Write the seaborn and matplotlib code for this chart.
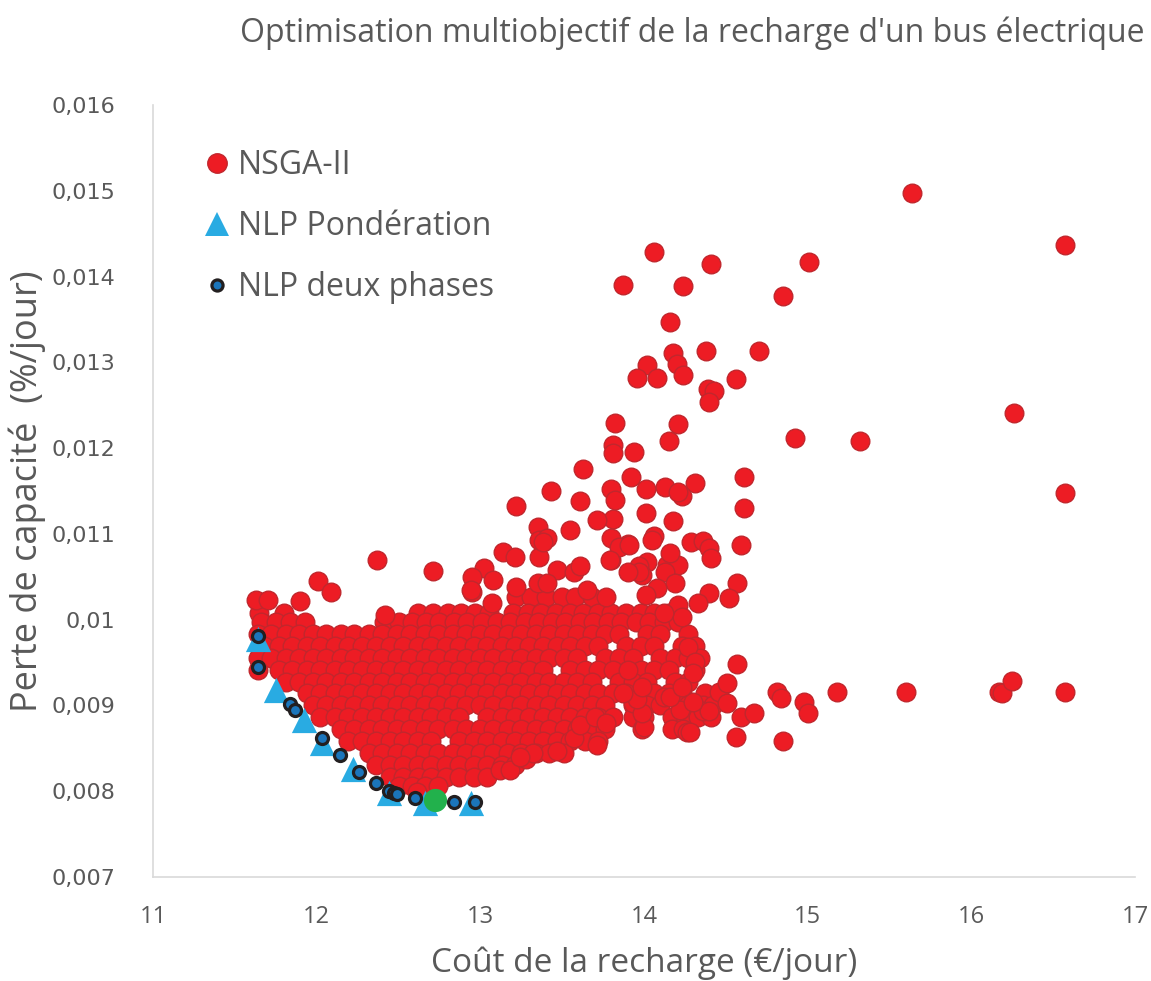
import matplotlib
matplotlib.use("Agg")
import matplotlib.pyplot as plt
import seaborn as sns
from matplotlib.lines import Line2D
from matplotlib.ticker import FuncFormatter, FixedLocator

# ---------------------------------------------------------------------------
# Data: charging cost (EUR/day) vs. battery capacity loss (%/day)
# ---------------------------------------------------------------------------

# NSGA-II population, scattered individuals (cost, loss)
nsga_sparse = [
    (15.64, 0.01497), (16.57, 0.01437), (14.06, 0.01429), (14.41, 0.01415), (15.01, 0.01417),
    (13.87, 0.01390), (14.24, 0.01389), (14.85, 0.01377), (14.16, 0.01347),
    (14.18, 0.01311), (14.20, 0.01298), (14.38, 0.01313), (14.70, 0.01313), (14.02, 0.01297),
    (14.08, 0.01282), (13.96, 0.01282), (14.24, 0.01285), (14.56, 0.01280), (14.39, 0.01269),
    (14.43, 0.01267), (14.40, 0.01254), (16.26, 0.01241), (13.82, 0.01229), (14.21, 0.01228),
    (14.15, 0.01208), (14.92, 0.01212), (15.32, 0.01208), (13.81, 0.01204), (13.81, 0.01194),
    (13.94, 0.01196), (13.63, 0.01176), (13.92, 0.01166), (16.57, 0.01148), (13.80, 0.01152),
    (14.01, 0.01152), (14.13, 0.01155), (14.31, 0.01159), (14.23, 0.01144), (14.21, 0.01149),
    (14.61, 0.01166), (14.61, 0.01130), (13.43, 0.01150), (13.61, 0.01138), (13.82, 0.01140),
    (13.22, 0.01133), (14.01, 0.01124), (14.18, 0.01115), (13.81, 0.01117), (13.71, 0.01116),
    (13.35, 0.01108), (13.55, 0.01105), (13.36, 0.01093), (13.41, 0.01095), (13.80, 0.01095),
    (13.90, 0.01088), (14.06, 0.01098), (14.59, 0.01087), (14.29, 0.01090), (14.36, 0.01092),
    (14.40, 0.01084), (14.41, 0.01072), (13.14, 0.01079), (13.21, 0.01073), (13.36, 0.01073),
    (13.80, 0.01069), (14.02, 0.01067), (14.14, 0.01064), (14.21, 0.01064), (13.97, 0.01063),
    (13.99, 0.01052), (14.13, 0.01056), (14.19, 0.01043), (14.57, 0.01043), (14.52, 0.01025),
    (14.40, 0.01031), (14.33, 0.01020), (13.02, 0.01060), (13.08, 0.01046), (12.95, 0.01032),
    (13.07, 0.01020), (12.37, 0.01069), (12.71, 0.01057), (12.01, 0.01045), (12.09, 0.01032),
    (12.42, 0.01006), (13.38, 0.01090), (13.85, 0.01085), (13.79, 0.01070), (13.47, 0.01058),
    (13.57, 0.01055), (13.61, 0.01062), (13.35, 0.01043), (13.41, 0.01043), (13.22, 0.01038),
    (12.95, 0.01050), (12.94, 0.01035), (13.65, 0.01035), (13.77, 0.01027), (13.91, 0.01087),
    (14.05, 0.01093), (14.16, 0.01078), (13.97, 0.01055), (13.90, 0.01055), (14.08, 0.01037),
    (14.01, 0.01029), (14.21, 0.01017), (14.23, 0.01003), (14.12, 0.01008), (14.27, 0.00968),
    (14.31, 0.00951), (14.30, 0.00938), (13.28, 0.00837), (13.12, 0.00825), (13.18, 0.00825),
    (11.63, 0.01023), (11.70, 0.01023), (11.90, 0.01022), (12.61, 0.00799),
]

# NSGA-II individuals along the right-hand tail (cost, loss)
nsga_tail = [
    (14.57, 0.00948), (14.46, 0.00916), (14.51, 0.00926), (14.51, 0.00903), (14.59, 0.00887),
    (14.67, 0.00891), (14.81, 0.00916), (14.84, 0.00909), (14.98, 0.00904), (15.00, 0.00891),
    (15.18, 0.00916), (15.60, 0.00916), (16.17, 0.00916), (16.19, 0.00915), (16.25, 0.00929),
    (16.57, 0.00916), (14.56, 0.00863), (14.85, 0.00858), (14.26, 0.00869), (14.28, 0.00869),
    (14.00, 0.00875), (13.71, 0.00854), (13.47, 0.00847), (13.57, 0.00862), (13.61, 0.00877),
    (13.70, 0.00887), (13.77, 0.00880), (13.32, 0.00845), (13.24, 0.00840), (14.36, 0.00893),
    (14.40, 0.00893), (14.22, 0.00895), (14.30, 0.00904), (13.93, 0.00903), (13.99, 0.00891),
    (13.96, 0.00907), (13.87, 0.00915), (14.12, 0.00910), (14.16, 0.00910), (14.23, 0.00922),
    (13.99, 0.00922), (13.90, 0.00941),
]

# NSGA-II dense core: loss levels and the costs found at each level
nsga_core_loss = [
    0.01027, 0.01008, 0.00997, 0.00983, 0.00969, 0.00955, 0.00941, 0.00927,
    0.00914, 0.00900, 0.00886, 0.00872, 0.00858, 0.00844, 0.00830, 0.00816, 0.00806,
]
nsga_core_cost = [
    [13.22, 13.31, 13.40, 13.50, 13.58, 13.68],
    [11.65, 11.80, 12.62, 12.71, 12.80, 12.88, 12.97, 13.05, 13.20, 13.29,
     13.37, 13.46, 13.55, 13.63, 13.72, 13.80, 13.89, 13.98, 14.06, 14.15],
    [11.66, 11.75, 11.84, 11.93, 12.41, 12.50, 12.58, 12.67, 12.75, 12.84, 12.92,
     13.01, 13.10, 13.18, 13.27, 13.35, 13.44, 13.52, 13.61, 13.69, 13.78, 13.86, 13.95,
     14.03, 14.12, 14.21],
    [11.64, 11.72, 11.81, 11.89, 11.98, 12.06, 12.15, 12.23, 12.32, 12.40, 12.49, 12.57,
     12.66, 12.74, 12.83, 12.91, 13.00, 13.08, 13.17, 13.25, 13.34, 13.42, 13.51, 13.59,
     13.68, 13.76, 13.85, 14.02, 14.10, 14.27],
    [11.68, 11.77, 11.85, 11.94, 12.02, 12.11, 12.19, 12.28, 12.36, 12.45, 12.53, 12.62,
     12.70, 12.79, 12.87, 12.96, 13.04, 13.13, 13.21, 13.30, 13.38, 13.47, 13.55, 13.64,
     13.72, 13.89, 13.98, 14.06, 14.23, 14.31],
    [11.64, 11.72, 11.81, 11.89, 11.98, 12.06, 12.15, 12.23, 12.32, 12.40, 12.49, 12.57,
     12.66, 12.74, 12.83, 12.91, 13.00, 13.08, 13.17, 13.25, 13.34, 13.42, 13.51, 13.59,
     13.76, 13.85, 13.93, 14.10, 14.19, 14.27, 14.34],
    [11.64, 11.77, 11.85, 11.94, 12.02, 12.11, 12.19, 12.28, 12.36, 12.45, 12.53, 12.62,
     12.70, 12.79, 12.87, 12.96, 13.04, 13.13, 13.21, 13.30, 13.38, 13.55, 13.64,
     13.72, 13.81, 13.98, 14.06, 14.15, 14.31],
    [11.81, 11.89, 11.98, 12.06, 12.15, 12.23, 12.32, 12.40, 12.49, 12.57, 12.66, 12.74,
     12.83, 12.91, 13.00, 13.08, 13.17, 13.25, 13.34, 13.42, 13.51, 13.59, 13.68,
     13.85, 13.93, 14.02, 14.19, 14.27],
    [11.94, 12.02, 12.11, 12.19, 12.28, 12.36, 12.45, 12.53, 12.62, 12.70, 12.79, 12.87,
     12.96, 13.04, 13.13, 13.21, 13.30, 13.38, 13.47, 13.55, 13.64, 13.72, 13.81, 13.89,
     14.06, 14.15, 14.23, 14.37],
    [11.98, 12.06, 12.15, 12.23, 12.32, 12.40, 12.49, 12.57, 12.66, 12.74, 12.83, 12.91,
     13.00, 13.08, 13.17, 13.25, 13.34, 13.42, 13.51, 13.59, 13.68, 13.76, 13.93,
     14.02, 14.10, 14.27, 14.36, 14.42],
    [12.02, 12.11, 12.19, 12.28, 12.36, 12.45, 12.53, 12.62, 12.70, 12.79, 12.87,
     13.04, 13.13, 13.21, 13.30, 13.38, 13.47, 13.55, 13.64, 13.72, 13.81, 13.93, 14.00,
     14.17, 14.25, 14.33, 14.41],
    [12.15, 12.23, 12.32, 12.40, 12.49, 12.57, 12.66, 12.74, 12.83, 12.91, 13.00, 13.08,
     13.17, 13.25, 13.34, 13.42, 13.51, 13.59, 13.68, 13.76, 13.99, 14.17, 14.24],
    [12.19, 12.28, 12.36, 12.45, 12.53, 12.62, 12.70, 12.87, 12.96, 13.04, 13.13,
     13.21, 13.30, 13.38, 13.47, 13.55, 13.64, 13.72],
    [12.32, 12.40, 12.49, 12.57, 12.66, 12.74, 12.83, 12.91, 13.00, 13.08, 13.17, 13.25,
     13.34, 13.42, 13.51],
    [12.36, 12.45, 12.53, 12.62, 12.70, 12.79, 12.87, 12.96, 13.04, 13.13, 13.21],
    [12.45, 12.53, 12.62, 12.70, 12.79, 12.87, 12.96, 13.04],
    [12.50, 12.58, 12.66, 12.74],
]

# NLP with weighting
ponderation_cost = [11.64, 11.75, 11.92, 12.03, 12.22, 12.44, 12.66, 12.94]
ponderation_loss = [0.00978, 0.00918, 0.00883, 0.00856, 0.00826, 0.00798, 0.00786, 0.00786]

# NLP two-phase
deux_phases_cost = [11.64, 11.64, 11.84, 11.87, 12.03, 12.14, 12.26, 12.36, 12.44, 12.47,
                    12.49, 12.60, 12.84, 12.97]
deux_phases_loss = [0.00981, 0.00945, 0.00902, 0.00895, 0.00862, 0.00842, 0.00822, 0.00810,
                    0.00800, 0.00798, 0.00797, 0.00792, 0.00788, 0.00787]

# Retained compromise solution
compromis_cost = [12.72]
compromis_loss = [0.00790]

x_ticks = [11, 12, 13, 14, 15, 16, 17]
y_ticks = [0.007, 0.008, 0.009, 0.010, 0.011, 0.012, 0.013, 0.014, 0.015, 0.016]

title = "Optimisation multiobjectif de la recharge d'un bus électrique"
x_label = "Coût de la recharge (€/jour)"
y_label = "Perte de capacité  (%/jour)"
series_names = ["NSGA-II", "NLP Pondération", "NLP deux phases"]

# ---------------------------------------------------------------------------
# Assemble NSGA-II population
# ---------------------------------------------------------------------------
nsga_x, nsga_y = [], []
for loss, costs in zip(nsga_core_loss, nsga_core_cost):
    nsga_x.extend(costs)
    nsga_y.extend([loss] * len(costs))
for c, l in nsga_sparse + nsga_tail:
    nsga_x.append(c)
    nsga_y.append(l)

# ---------------------------------------------------------------------------
# Style
# ---------------------------------------------------------------------------
sns.set_theme(style="white")
plt.rcParams["font.family"] = ["Open Sans", "DejaVu Sans"]

GREY_TXT = "#595959"
RED = "#ED1C24"
RED_EDGE = "#C1272D"
CYAN = "#29ABE2"
BLUE = "#1B75BB"
DARK = "#231F20"
GREEN = "#22B14C"

fig = plt.figure(figsize=(11.51, 9.81), dpi=100)
ax = fig.add_axes([153 / 1151, 1 - 877 / 981, (1135 - 153) / 1151, (877 - 105) / 981])

sns.scatterplot(x=nsga_x, y=nsga_y, ax=ax, s=180, color=RED, edgecolor=RED_EDGE,
                linewidth=1.0, legend=False, zorder=2)
sns.scatterplot(x=ponderation_cost, y=ponderation_loss, ax=ax, marker="^", s=330,
                color=CYAN, linewidth=0, legend=False, zorder=3)
sns.scatterplot(x=compromis_cost, y=compromis_loss, ax=ax, s=280, color=GREEN,
                linewidth=0, legend=False, zorder=4)
sns.scatterplot(x=deux_phases_cost, y=deux_phases_loss, ax=ax, s=75, color=BLUE,
                edgecolor=DARK, linewidth=2.3, legend=False, zorder=5)

ax.set_xlim(x_ticks[0], x_ticks[-1])
ax.set_ylim(y_ticks[0], y_ticks[-1])
ax.xaxis.set_major_locator(FixedLocator(x_ticks))
ax.yaxis.set_major_locator(FixedLocator(y_ticks))
ax.yaxis.set_major_formatter(FuncFormatter(lambda v, _: f"{v:g}".replace(".", ",")))
ax.xaxis.set_major_formatter(FuncFormatter(lambda v, _: f"{v:g}"))

for side in ("top", "right"):
    ax.spines[side].set_visible(False)
for side in ("left", "bottom"):
    ax.spines[side].set_color("#D9D9D9")
    ax.spines[side].set_linewidth(1.2)

ax.tick_params(axis="both", length=0, colors=GREY_TXT)
ax.tick_params(axis="y", pad=27, labelsize=16)
ax.tick_params(axis="x", pad=20, labelsize=17)
for lab in ax.get_yticklabels():
    lab.set_family(["DejaVu Sans"])

ax.set_xlabel(x_label, fontsize=24, color=GREY_TXT, labelpad=13)
ax.set_ylabel(y_label, fontsize=26, color=GREY_TXT, labelpad=4)

fig.text(1145 / 1151, 1 - 33 / 981, title, ha="right", va="center",
         fontsize=23, color=GREY_TXT)

handles = [
    Line2D([], [], linestyle="", marker="o", markersize=14, markerfacecolor=RED,
           markeredgecolor=RED_EDGE, markeredgewidth=1.0),
    Line2D([], [], linestyle="", marker="^", markersize=17, markerfacecolor=CYAN,
           markeredgewidth=0),
    Line2D([], [], linestyle="", marker="o", markersize=8, markerfacecolor=BLUE,
           markeredgecolor=DARK, markeredgewidth=2.3),
]
leg = ax.legend(handles, series_names, loc="upper left", bbox_to_anchor=(0.052, 0.943),
                frameon=False, fontsize=23, handlelength=0.8, handletextpad=0.25,
                labelspacing=0.88, borderpad=0, borderaxespad=0)
for t in leg.get_texts():
    t.set_color(GREY_TXT)

fig.savefig("out.png", dpi=100, facecolor="white")
